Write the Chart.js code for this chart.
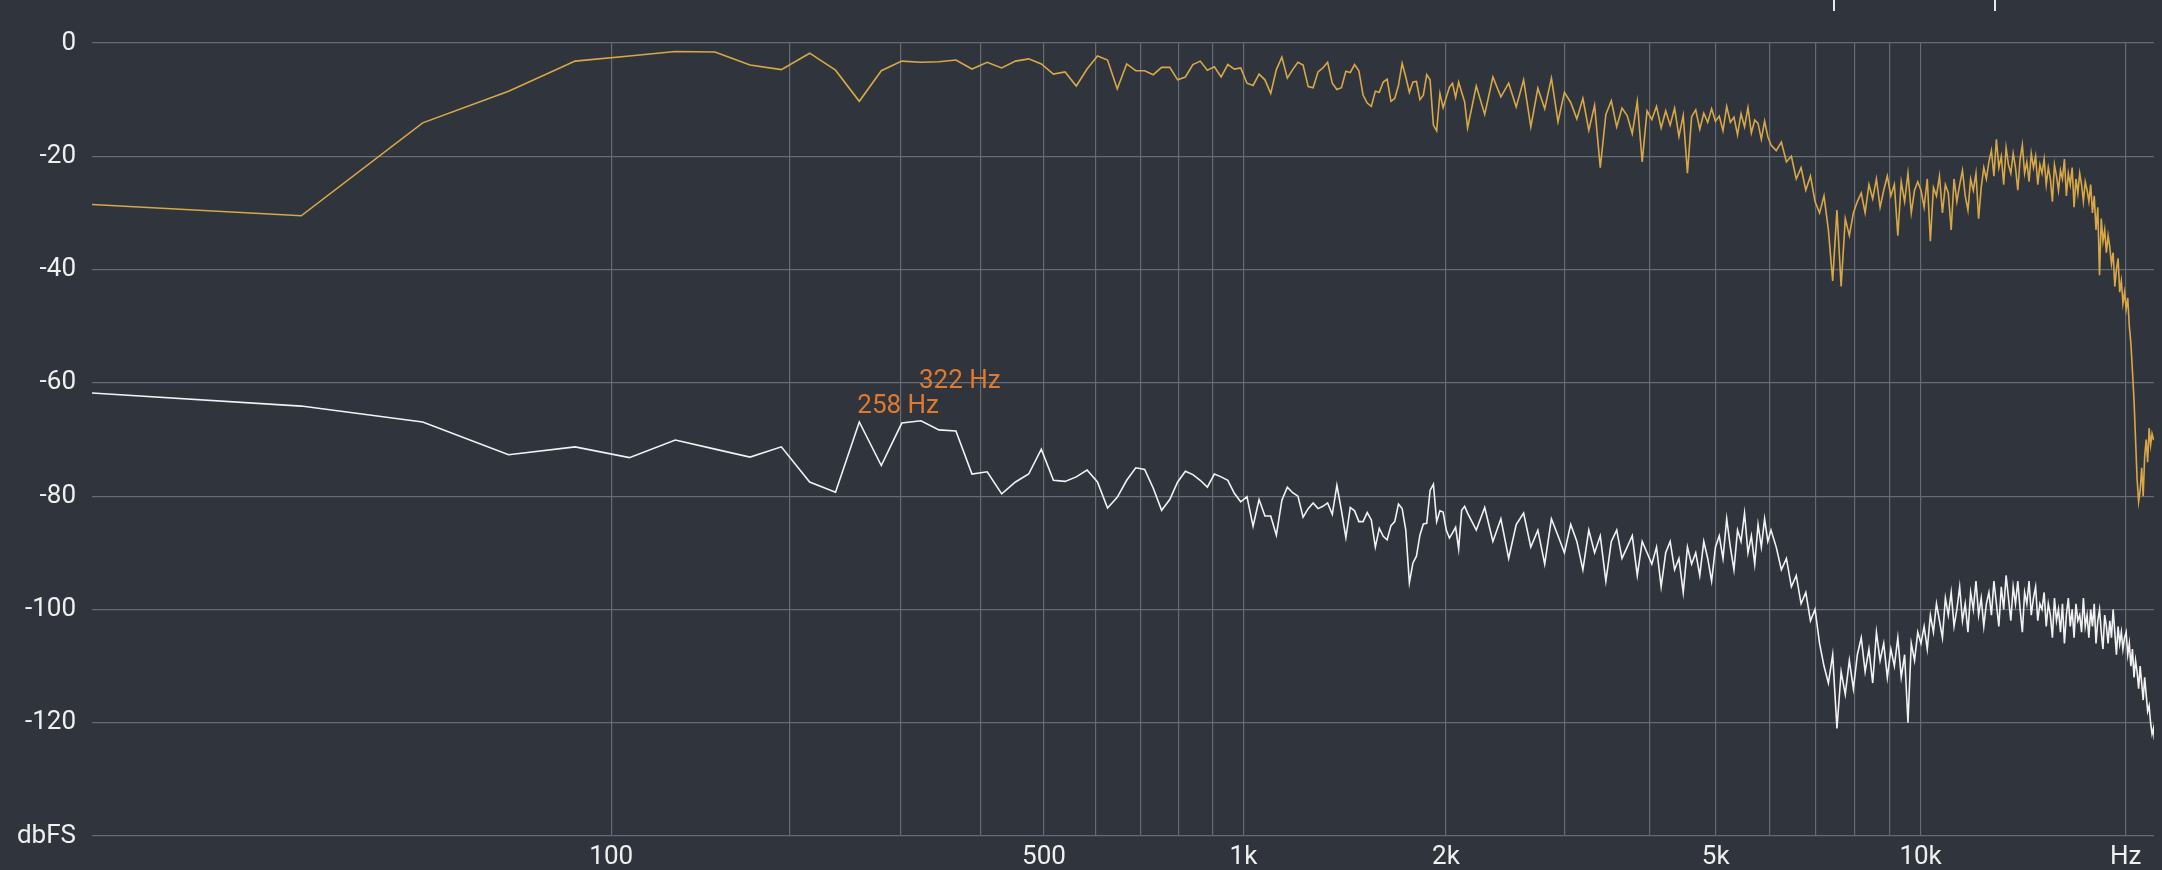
<!DOCTYPE html>
<html><head><meta charset="utf-8">
<script src="https://cdn.jsdelivr.net/npm/chart.js@4.4.1/dist/chart.umd.min.js"></script>
<style>html,body{margin:0;padding:0;background:#30353d;overflow:hidden}#wrap{width:2162px;height:870px}</style>
</head><body><div id="wrap"><canvas id="c" width="2162" height="870"></canvas></div>
<script>
const BIN_HZ = 21.533;
// bin indices of the FFT points shown
const lowBins = Array.from({length:101},(_,i)=>i);
const midBins = []; for (let b=103;b<=280;b+=3) midBins.push(b);
const highBins = []; for (let b=285;b<=1020;b+=5) highBins.push(b); highBins.push(1023);

const goldLow = [-28.5,-30.5,-14.1,-8.5,-3.2,-2.3,-1.5,-1.6,-3.9,-4.7,-1.8,-4.8,-10.3,-4.9,-3.2,-3.4,-3.3,-3.0,-4.6,-3.4,
-4.4,-3.2,-2.8,-3.7,-5.5,-5.1,-7.6,-4.6,-2.3,-3.0,-8.1,-3.7,-4.9,-4.9,-5.6,-4.3,-4.3,-6.5,-6.0,-3.8,
-3.2,-4.8,-4.2,-6.0,-3.8,-4.6,-4.4,-7.1,-7.5,-5.5,-6.5,-8.9,-4.7,-2.5,-6.2,-4.7,-3.4,-3.9,-7.7,-7.9,
-5.1,-4.4,-3.4,-7.1,-8.2,-7.9,-5.0,-5.2,-3.8,-4.9,-9.2,-10.6,-11.2,-8.5,-8.7,-6.9,-6.4,-10.3,-9.8,-7.5,
-3.6,-6.0,-8.7,-6.9,-6.8,-10.0,-9.2,-5.6,-6.5,-14.5,-15.5,-8.9,-11.4,-9.6,-7.8,-7.1,-9.6,-6.9,-8.7,-10.4,-15.0];
const goldMid = [-7.6,-12.6,-6.0,-9.5,-7.1,-11.3,-6.5,-14.8,-8.0,-11.6,-6.2,-13.9,-8.7,
-10.5,-13.4,-9.8,-15.4,-11,-22,-12.6,-10.2,-14.8,-11.5,-12.8,-16,-10.3,-21,-12,
-13.5,-11.2,-15,-12,-14.5,-11.5,-16.5,-12.8,-23,-13,-11.8,-15.2,-12.4,-14,-11.6,-13.8,
-12.9,-15.5,-11.2,-14,-13.1,-16.2,-12.5,-14.8,-11.4,-15.9,-13.6,-14.2,-17,-13.8,-16.5,-18];
const goldHigh = [-19,-17.5,-21,-20,-24,-22,-26,-23.5,-28,
-30,-27,-33,-42,-29.5,-43,-31,-34,-30,
-28,-26.5,-30,-25,-27.5,-24,-29,-26,-23.5,
-27,-25,-34,-24.5,-28,-23,-30,-26,-24.5,
-26,-29,-24,-35,-25.5,-27,-23.5,-30,-25,-26.5,-33,-24,-28,-25,-22.5,-27,-29.5,-24,-26,-23,-31,-25.5,-22,-24,
-21,-19,-23.5,-17,-22,-20,-25,-18.5,-21.5,-23,-19.5,-22,-26,-20.5,-18,-23,-21,-24.5,-19.5,-22,-20,-25,-21.5,
-23,-20.5,-25,-22,-24,-28,-21.5,-23.5,-26,-22.5,-24,-20.5,-27,-23,-25,-22,-29,-24,-26.5,-23,-25,-28,-24.5,
-26,-28,-25,-30,-27,-33,-29,-41,-31,-35,-33,-37,-34,-36,-39,-37,-43,-40,-38,-44,-42,-46,-44,
-47,-45,-50,-53,-58,-63,-70,-77,-81,-79,-75,-80,-73,-70,-74,-68,-71,-69,-70,-70];

const whiteLow = [-61.8,-64.1,-66.9,-72.7,-71.3,-73.2,-70.1,-71.7,-73.1,-71.3,-77.5,-79.3,-66.9,-74.6,-67.1,-66.7,-68.3,-68.5,-76.1,-75.7,
-79.6,-77.5,-76.1,-71.7,-77.2,-77.4,-76.6,-75.4,-77.5,-82.1,-80.2,-77.2,-75.0,-75.3,-78.6,-82.5,-80.6,-77.5,-75.6,-76.2,
-77.2,-78.4,-76.1,-76.6,-77.2,-79.5,-81.0,-80.1,-85.3,-80.6,-83.5,-83.5,-86.9,-80.7,-78.4,-79.4,-80.0,-83.7,-82.2,-81.2,
-82.2,-81.8,-81.2,-83.2,-78.1,-82.5,-87.3,-82.0,-82.6,-84.5,-84.5,-82.9,-84.2,-89.0,-85.7,-87.1,-87.7,-85.2,-84.5,-81.4,
-82.2,-86.0,-95.3,-91.8,-90.6,-86.9,-84.9,-84.8,-79.0,-77.9,-84.5,-82.6,-82.8,-86.0,-87.4,-86.5,-85.5,-89.3,-82.5,-81.8,-83.0];
const whiteMid = [-86,-82,-88,-84,-91,-85,-83,-89,-86,-92,-84,-87,-90,
-85,-88,-93,-86,-90,-87,-95,-88,-86,-91,-89,-87,-94,-88,-90,
-92,-89,-96,-90,-88,-93,-91,-97,-89,-92,-90,-94,-88,-91,-95,-89,
-87,-91,-84,-89,-93,-86,-88,-83,-90,-87,-92,-85,-89,-84,-88,-86];
const whiteHigh = [-89,-93,-91,-96,-94,-99,-97,-102,-100,
-106,-110,-113,-108,-121,-111,-115,-109,-114,
-108,-105,-111,-107,-113,-104,-109,-106,-112,
-107,-110,-105,-112,-108,-120,-106,-109,-104,
-106,-103,-107,-101,-104,-99,-102,-105,-98,-101,-97,-103,-100,-96,-102,-99,-104,-97,-100,-95,-101,-98,-103,-99,
-97,-101,-95,-99,-103,-96,-100,-94,-98,-102,-96,-99,-95,-100,-104,-97,-99,-95,-101,-98,-96,-102,-99,
-100,-97,-103,-99,-101,-105,-98,-102,-100,-104,-99,-106,-101,-98,-103,-100,-105,-99,-102,-101,-104,-98,-103,
-101,-105,-100,-103,-99,-106,-102,-100,-104,-107,-101,-103,-106,-102,-105,-100,-104,-108,-103,-106,-104,-107,-105,
-104,-108,-106,-110,-107,-112,-109,-111,-114,-110,-113,-116,-112,-115,-118,-117,-120,-122,-121,-123];

const gridHz = [100,200,300,400,500,600,700,800,900,1000,2000,3000,4000,5000,6000,7000,8000,9000,10000,20000];
const xLabels = {100:'100',500:'500',1000:'1k',2000:'2k',5000:'5k',10000:'10k',20000:'Hz'};
const yTicks = [0,-20,-40,-60,-80,-100,-120,-140];
const yLabels = {0:'0','-20':'-20','-40':'-40','-60':'-60','-80':'-80','-100':'-100','-120':'-120','-140':'dbFS'};
const peaks = [{bin:12,text:'258 Hz',dy:-9},{bin:15,text:'322 Hz',dy:-33}];

const allBins = lowBins.concat(midBins, highBins);
const pos = hz => Math.log10(hz + 21);
const mk = vals => allBins.map((b,i)=>({x:pos(b*BIN_HZ), y:vals[i]}));
const gold = goldLow.concat(goldMid, goldHigh);
const white = whiteLow.concat(whiteMid, whiteHigh);

const FONT = 'Roboto';
const overlay = {
  id:'overlay',
  afterDatasetsDraw(chart){
    const ctx = chart.ctx, xs = chart.scales.x, ys = chart.scales.y;
    ctx.save();
    ctx.fillStyle = '#e07a2e';
    ctx.font = '26px ' + FONT;
    ctx.textBaseline = 'alphabetic';
    peaks.forEach(p=>{
      const px = xs.getPixelForValue(pos(p.bin*BIN_HZ));
      const py = ys.getPixelForValue(whiteLow[p.bin]);
      ctx.fillText(p.text, px - 2, py + p.dy);
    });
    ctx.strokeStyle = '#e8e8e8'; ctx.lineWidth = 2;
    [1834,1995].forEach(x=>{ctx.beginPath();ctx.moveTo(x,0);ctx.lineTo(x,11);ctx.stroke();});
    ctx.restore();
  }
};

new Chart(document.getElementById('c'), {
  type:'line',
  data:{datasets:[
    {data:mk(gold), borderColor:'#d8a846', borderWidth:1.6, pointRadius:0, tension:0},
    {data:mk(white), borderColor:'#f2f2f2', borderWidth:1.6, pointRadius:0, tension:0}
  ]},
  options:{
    responsive:false, animation:false, devicePixelRatio:1,
    layout:{padding:{top:43,right:8,left:0,bottom:0}},
    plugins:{legend:{display:false}, tooltip:{enabled:false}},
    scales:{
      x:{type:'linear', min:pos(0), max:pos(22000),
        afterBuildTicks(s){ s.ticks = gridHz.map(h=>({value:pos(h)})); },
        afterFit(s){ s.height = 34; },
        grid:{color:'#666b73', lineWidth:1.2, drawTicks:false},
        border:{display:false},
        ticks:{color:'#f0f0f0', font:{family:FONT,size:26}, padding:6, maxRotation:0, autoSkip:false,
          callback:(v,i)=>xLabels[gridHz[i]] || ''}
      },
      y:{type:'linear', min:-140, max:0,
        afterBuildTicks(s){ s.ticks = yTicks.map(v=>({value:v})); },
        afterFit(s){ s.width = 92; },
        grid:{color:'#666b73', lineWidth:1.2, drawTicks:false},
        border:{display:false},
        ticks:{color:'#f0f0f0', font:{family:FONT,size:26}, padding:16,
          callback:v=>yLabels[v]}
      }
    }
  },
  plugins:[overlay]
});
</script></body></html>
